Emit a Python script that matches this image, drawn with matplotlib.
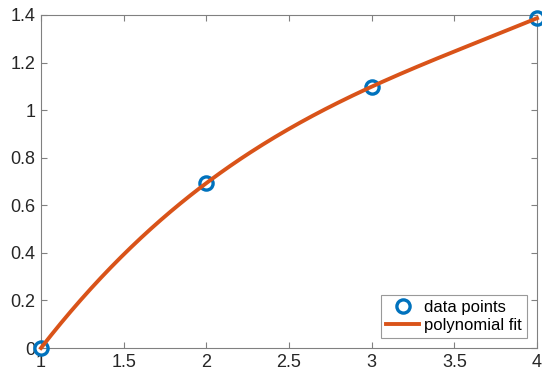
import numpy as np
import matplotlib
matplotlib.use("Agg")
from matplotlib import pyplot as plt

x_data = [1, 2, 3, 4]
y_data = [0.0, 0.6931, 1.0986, 1.3863]
x_ticks = [1, 1.5, 2, 2.5, 3, 3.5, 4]
y_ticks = [0, 0.2, 0.4, 0.6, 0.8, 1, 1.2, 1.4]
x_tick_labels = ["1", "1.5", "2", "2.5", "3", "3.5", "4"]
y_tick_labels = ["0", "0.2", "0.4", "0.6", "0.8", "1", "1.2", "1.4"]

plt.rcParams['font.family'] = ['Liberation Sans', 'DejaVu Sans']

# cubic fit through the four points
coef = np.polyfit(x_data, y_data, 3)
xf = np.linspace(1, 4, 200)
yf = np.polyval(coef, xf)

fig = plt.figure(figsize=(5.42, 3.74), dpi=100)
ax = fig.add_axes([0.0756, 0.0695, 0.9152, 0.8905])

ax.plot(x_data, y_data, 'o', mfc='none', mec='#0072BD', mew=2.4, ms=9.5,
        label='data points', zorder=3, clip_on=False)
ax.plot(xf, yf, '-', color='#D95319', lw=2.8, label='polynomial fit', zorder=4,
        clip_on=False)

ax.set_xlim(1, 4)
ax.set_ylim(0, 1.4)
ax.set_xticks(x_ticks)
ax.set_xticklabels(x_tick_labels)
ax.set_yticks(y_ticks)
ax.set_yticklabels(y_tick_labels)

gray = '#808080'
for s in ax.spines.values():
    s.set_color(gray)
    s.set_linewidth(0.8)
ax.tick_params(direction='in', length=4, width=0.8, color=gray,
               labelsize=13, labelcolor='#262626', top=True, right=True, pad=4)

leg = ax.legend(loc='lower right', fontsize=12, frameon=True, fancybox=False,
                borderpad=0.3, handlelength=2.0, handletextpad=0.3,
                labelspacing=0.2, borderaxespad=0.6)
leg.get_frame().set_edgecolor(gray)
leg.get_frame().set_linewidth(0.8)

fig.savefig('out.png', dpi=100)
